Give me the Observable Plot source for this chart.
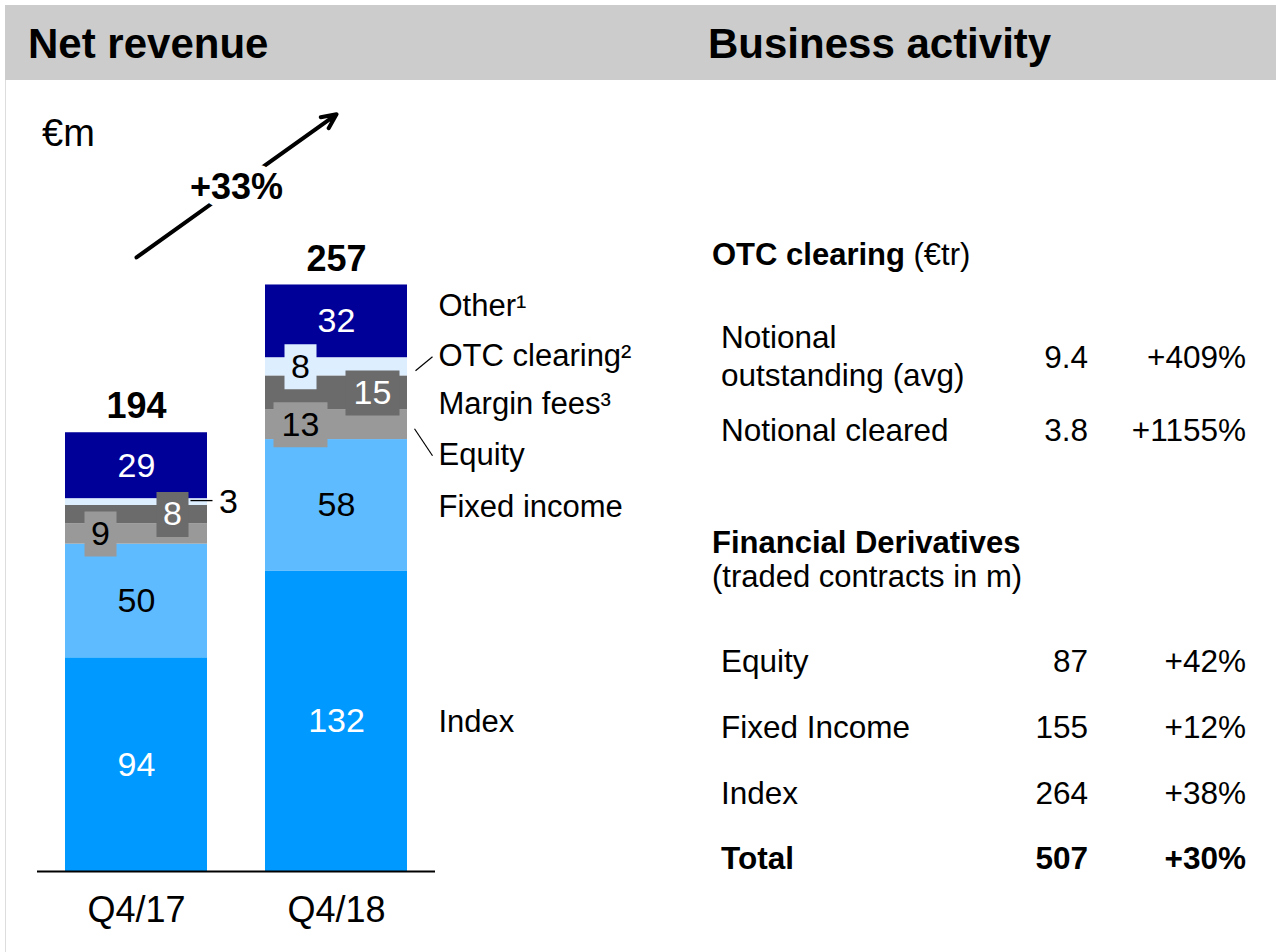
<!DOCTYPE html>
<html>
<head>
<meta charset="utf-8">
<script src="https://cdn.jsdelivr.net/npm/d3@7"></script>
<script src="https://cdn.jsdelivr.net/npm/@observablehq/plot@0.6"></script>
<style>
html, body { margin: 0; padding: 0; background: #fff; }
#page { position: relative; width: 1276px; height: 952px; overflow: hidden;
  font-family: "Liberation Sans", Arial, Helvetica, sans-serif; color: #000; }
.t { position: absolute; line-height: 1; white-space: nowrap; }
#band { position: absolute; left: 5px; top: 5px; width: 1271px; height: 75px; background: #cccccc; }
#vline { position: absolute; left: 5px; top: 80px; width: 1px; height: 872px; background: #dddddd; }
#chart { position: absolute; left: 0; top: 80px; }
</style>
</head>
<body>
<div id="page">
  <div id="band"></div>
  <div id="vline"></div>
  <div id="chart"></div>
</div>
<script>
// ---------- data ----------
const periods = ["Q4/17", "Q4/18"];
const segments = ["Index", "Fixed income", "Equity", "Margin fees", "OTC clearing", "Other"];
const legendLabels = ["Index", "Fixed income", "Equity", "Margin fees³", "OTC clearing²", "Other¹"];
const revenueQ417 = [94, 50, 9, 8, 3, 29];
const revenueQ418 = [132, 58, 13, 15, 8, 32];
const totals = [194, 257];
const growthLabel = "+33%";
const unitLabel = "€m";

const otcLabels = [["Notional", "outstanding (avg)"], ["Notional cleared"]];
const otcValues = ["9.4", "3.8"];
const otcChanges = ["+409%", "+1155%"];
const fdLabels = ["Equity", "Fixed Income", "Index", "Total"];
const fdValues = ["87", "155", "264", "507"];
const fdChanges = ["+42%", "+12%", "+38%", "+30%"];

// ---------- styles ----------
const segColors = ["#0099ff", "#5ebbff", "#999999", "#6b6b6b", "#ddeeff", "#000099"];
const textColors = ["white", "black", "black", "white", "black", "white"];
const placement = {
  "Q4/17": ["c", "c", "L", "R", "out", "c"],
  "Q4/18": ["c", "c", "L", "R", "L", "c"]
};
const legendDy = [1, 2, 30, 11, -11, -15];
const FONT = "'Liberation Sans', Arial, Helvetica, sans-serif";
const VAL = 34;

// ---------- rows ----------
const rows = [];
periods.forEach((p, pi) => {
  const vals = pi === 0 ? revenueQ417 : revenueQ418;
  let cum = 0;
  vals.forEach((v, si) => {
    rows.push({period: p, si, value: v, y1: cum, y2: cum + v, mid: cum + v / 2,
      fill: segColors[si], textFill: textColors[si], place: placement[p][si]});
    cum += v;
  });
});
const tops = periods.map((p, i) => ({period: p, total: totals[i],
  top: d3.sum(i === 0 ? revenueQ417 : revenueQ418)}));

const boxSym = w => ({draw(ctx) { ctx.rect(-w / 2, -22.5, w, 45); }});
const segSym = (x1, y1, x2, y2) => ({draw(ctx) { ctx.moveTo(x1, y1); ctx.lineTo(x2, y2); }});

const marks = [];
marks.push(Plot.barY(rows, {x: "period", y1: "y1", y2: "y2", fill: "fill"}));

rows.forEach(d => {
  const label = String(d.value);
  if (d.place === "c") {
    marks.push(Plot.text([d], {x: "period", y: "mid", text: () => label, fill: d.textFill, fontSize: VAL}));
  } else if (d.place === "L" || d.place === "R") {
    const dx = d.place === "L" ? -36 : 36;
    marks.push(Plot.dot([d], {x: "period", y: "mid", symbol: boxSym(label.length > 1 ? 54 : 32),
      fill: d.fill, stroke: "none", dx}));
    marks.push(Plot.text([d], {x: "period", y: "mid", text: () => label, fill: d.textFill, fontSize: VAL, dx}));
  } else if (d.place === "out") {
    marks.push(Plot.dot([d], {x: "period", y: "mid", symbol: segSym(54, -1.5, 76, -1.5),
      fill: "none", stroke: "black", strokeWidth: 1.3}));
    marks.push(Plot.text([d], {x: "period", y: "mid", text: () => label, fill: "black", fontSize: VAL, dx: 92}));
  }
});

// legend labels beside the Q4/18 bar
const last = rows.filter(d => d.period === periods[1]);
last.forEach(d => {
  marks.push(Plot.text([d], {x: "period", y: "mid", text: () => legendLabels[d.si], textAnchor: "start",
    fill: "black", fontSize: 31, dx: 102, dy: legendDy[d.si]}));
});
// leader lines for the OTC clearing and Equity labels
marks.push(Plot.dot(last.filter(d => d.si === 4), {x: "period", y: "mid", symbol: segSym(79, 4, 96, -10),
  fill: "none", stroke: "black", strokeWidth: 1.2}));
marks.push(Plot.dot(last.filter(d => d.si === 2), {x: "period", y: "mid", symbol: segSym(78, 4, 96, 31),
  fill: "none", stroke: "black", strokeWidth: 1.2}));

// totals
marks.push(Plot.text(tops, {x: "period", y: "top", text: d => String(d.total), dy: -26,
  fontWeight: "bold", fontSize: 36, fill: "black"}));

// growth arrow
marks.push(Plot.arrow([tops], {x1: t => t[0].period, y1: t => t[0].total, x2: t => t[1].period, y2: t => t[1].total,
  dy: -173, stroke: "black", strokeWidth: 4, headLength: 6, headAngle: 50}));
marks.push(Plot.text([tops], {x: t => t[0].period, y: t => (t[0].total + t[1].total) / 2, text: () => growthLabel,
  dx: 100, dy: -171, fontWeight: "bold", fontSize: 36, fill: "black", stroke: "white", strokeWidth: 16}));

// baseline
marks.push(Plot.ruleY([0], {stroke: "black", strokeWidth: 2}));

const chart = Plot.plot({
  width: 660,
  height: 872,
  marginLeft: 37,
  marginRight: 225,
  marginTop: 109,
  marginBottom: 81,
  x: {domain: periods, paddingInner: 0.29, paddingOuter: 0.14, tickSize: 0, tickPadding: 25, label: null},
  y: {domain: [0, 300], axis: null},
  color: {type: "identity"},
  style: {fontFamily: FONT, fontSize: "36px", color: "black", background: "transparent", overflow: "visible"},
  marks
});
document.getElementById("chart").appendChild(chart);

// ---------- HTML text ----------
const page = document.getElementById("page");
function T(html, o) {
  const el = document.createElement("div");
  el.className = "t";
  el.innerHTML = html;
  el.style.fontSize = o.size + "px";
  el.style.top = (o.cy - 0.49 * o.size) + "px";
  if (o.left != null) el.style.left = o.left + "px";
  if (o.right != null) el.style.right = (1276 - o.right) + "px";
  if (o.bold) el.style.fontWeight = "bold";
  page.appendChild(el);
  return el;
}
T("Net revenue", {left: 28, cy: 44, size: 42, bold: true});
T("Business activity", {left: 708, cy: 44, size: 42, bold: true});
T(unitLabel, {left: 42, cy: 133, size: 38});

T("<b>OTC clearing</b> (€tr)", {left: 712, cy: 254, size: 31});
const otcCy = [[337, 375], [430]];
const otcValCy = [357, 430];
otcLabels.forEach((lines, i) => {
  lines.forEach((ln, j) => T(ln, {left: 721, cy: otcCy[i][j], size: 31.5}));
  T(otcValues[i], {right: 1088, cy: otcValCy[i], size: 31.5});
  T(otcChanges[i], {right: 1246, cy: otcValCy[i], size: 31.5});
});

T("Financial Derivatives", {left: 712, cy: 542, size: 31, bold: true});
T("(traded contracts in m)", {left: 712, cy: 576, size: 31});
const fdCy = [661, 727, 793, 858];
fdLabels.forEach((lab, i) => {
  const bold = lab === "Total";
  T(lab, {left: 721, cy: fdCy[i], size: 31.5, bold});
  T(fdValues[i], {right: 1088, cy: fdCy[i], size: 31.5, bold});
  T(fdChanges[i], {right: 1246, cy: fdCy[i], size: 31.5, bold});
});
</script>
</body>
</html>
